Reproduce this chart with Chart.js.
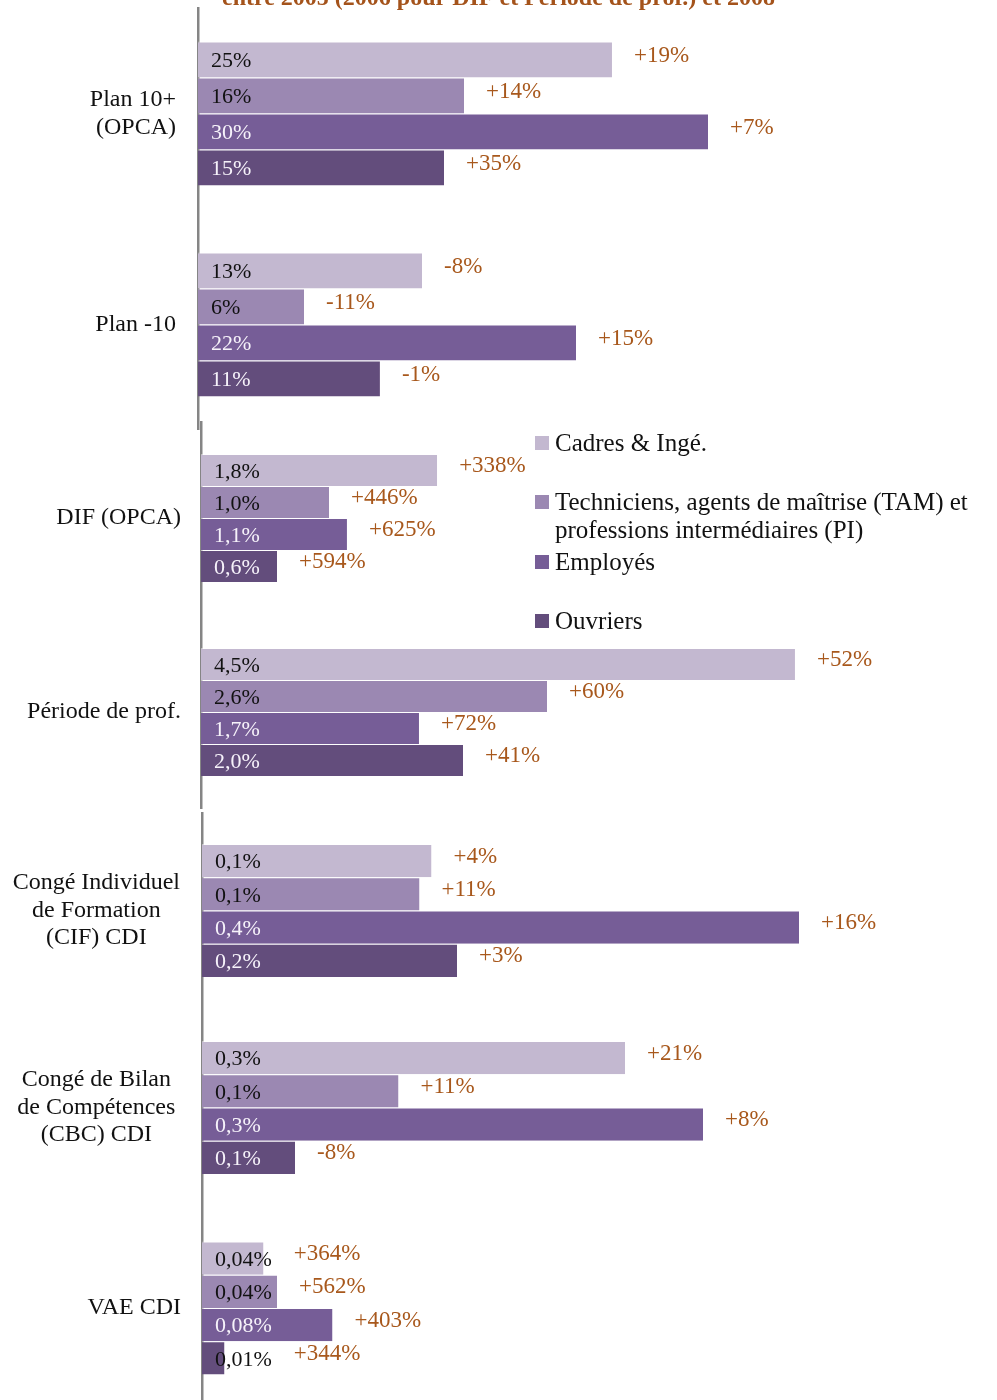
<!DOCTYPE html>
<html><head><meta charset="utf-8">
<script src="https://cdn.jsdelivr.net/npm/chart.js@4/dist/chart.umd.min.js"></script>
<style>
html,body{margin:0;padding:0;background:#fff;}
body{width:997px;height:1400px;position:relative;overflow:hidden;}
.box{position:absolute;left:0;width:997px;}
</style></head><body>
<div class="box" style="top:-52px;height:482px"><canvas id="c1"></canvas></div>
<div class="box" style="top:421px;height:388px"><canvas id="c2"></canvas></div>
<div class="box" style="top:812px;height:394px"><canvas id="c3"></canvas></div>
<div class="box" style="top:1206px;height:204px"><canvas id="c4"></canvas></div>
<script>
// ---- DATA ----
const titleText = "entre 2005 (2006 pour DIF et Période de prof.) et 2008";
const categories = [
  ["Plan 10+", "(OPCA)"],
  "Plan -10",
  "DIF (OPCA)",
  "Période de prof.",
  ["Congé Individuel", "de Formation", "(CIF) CDI"],
  ["Congé de Bilan", "de Compétences", "(CBC) CDI"],
  "VAE CDI"
];
const seriesNames = ["Cadres & Ingé.", "Techniciens, agents de maîtrise (TAM) et professions intermédiaires (PI)", "Employés", "Ouvriers"];
// bar lengths (in %)
const cadresValues   = [24.87, 13.46, 1.78, 4.477, 0.153, 0.282, 0.041];
const tamValues      = [15.98, 6.37, 0.965, 2.608, 0.145, 0.131, 0.050];
const employesValues = [30.64, 22.71, 1.10, 1.643, 0.398, 0.334, 0.087];
const ouvriersValues = [14.78, 10.93, 0.573, 1.975, 0.170, 0.062, 0.015];
// printed share labels
const cadresLabels   = ["25%", "13%", "1,8%", "4,5%", "0,1%", "0,3%", "0,04%"];
const tamLabels      = ["16%", "6%", "1,0%", "2,6%", "0,1%", "0,1%", "0,04%"];
const employesLabels = ["30%", "22%", "1,1%", "1,7%", "0,4%", "0,3%", "0,08%"];
const ouvriersLabels = ["15%", "11%", "0,6%", "2,0%", "0,2%", "0,1%", "0,01%"];
// printed evolution labels
const cadresChange   = ["+19%", "-8%", "+338%", "+52%", "+4%", "+21%", "+364%"];
const tamChange      = ["+14%", "-11%", "+446%", "+60%", "+11%", "+11%", "+562%"];
const employesChange = ["+7%", "+15%", "+625%", "+72%", "+16%", "+8%", "+403%"];
const ouvriersChange = ["+35%", "-1%", "+594%", "+41%", "+3%", "-8%", "+344%"];

// ---- STYLE ----
const FONT = "'Liberation Serif', 'Times New Roman', serif";
const colors = ["#c3b8d0", "#9b88b2", "#765d97", "#634d7c"];
const textColors = ["#111111", "#111111", "#f6f2fa", "#f6f2fa"];
const changeColor = "#a8581c";

const series = [
  {values: cadresValues, labels: cadresLabels, changes: cadresChange},
  {values: tamValues, labels: tamLabels, changes: tamChange},
  {values: employesValues, labels: employesLabels, changes: employesChange},
  {values: ouvriersValues, labels: ouvriersLabels, changes: ouvriersChange}
];

const barLabels = {
  id: 'barLabels',
  afterDatasetsDraw(chart) {
    const ctx = chart.ctx;
    ctx.save();
    ctx.textAlign = 'left';
    ctx.textBaseline = 'middle';
    chart.data.datasets.forEach((ds, di) => {
      const meta = chart.getDatasetMeta(di);
      meta.data.forEach((bar, j) => {
        const left = bar.base, right = bar.x, y = bar.y;
        ctx.font = "22px " + FONT;
        const txt = ds.valueLabels[j];
        const tw = ctx.measureText(txt).width;
        const tx = left + 13;
        ctx.fillStyle = (tx + tw <= right - 2) ? ds.textColor : '#111111';
        ctx.fillText(txt, tx, y + 2);
        ctx.font = "23px " + FONT;
        ctx.fillStyle = changeColor;
        ctx.fillText(ds.changes[j], Math.max(right, tx + tw) + 22, y - 4);
      });
    });
    ctx.restore();
  }
};

const sideLegend = {
  id: 'sideLegend',
  afterDraw(chart) {
    const ctx = chart.ctx;
    const offsetTop = 421;
    const ys = [443, 502, 562, 621];
    ctx.save();
    ctx.font = "25px " + FONT;
    ctx.textAlign = 'left';
    ctx.textBaseline = 'middle';
    chart.data.datasets.forEach((ds, i) => {
      const y = ys[i] - offsetTop;
      ctx.fillStyle = ds.backgroundColor;
      ctx.fillRect(535, y - 7, 14, 14);
      ctx.fillStyle = '#111111';
      const words = ds.label.split(' ');
      const lines = [];
      let cur = '';
      words.forEach(w => {
        const t = cur ? cur + ' ' + w : w;
        if (ctx.measureText(t).width > 440 && cur) { lines.push(cur); cur = w; } else cur = t;
      });
      lines.push(cur);
      lines.forEach((ln, k) => ctx.fillText(ln, 555, y + 1 + k * 28));
    });
    ctx.restore();
  }
};

function makeChart(id, idx, o) {
  const datasets = series.map((s, si) => ({
    label: seriesNames[si],
    data: idx.map(i => s.values[i]),
    valueLabels: idx.map(i => s.labels[i]),
    changes: idx.map(i => s.changes[i]),
    backgroundColor: colors[si],
    textColor: textColors[si],
    borderColor: 'rgba(255,255,255,0.45)',
    borderWidth: {top: 1, bottom: 0, left: 0, right: 0},
    borderSkipped: 'start',
    barPercentage: 1,
    categoryPercentage: o.catPct
  }));
  return new Chart(document.getElementById(id), {
    type: 'bar',
    data: {labels: idx.map(i => categories[i]), datasets},
    options: {
      indexAxis: 'y',
      responsive: true,
      maintainAspectRatio: false,
      animation: false,
      layout: {padding: 0},
      plugins: {
        legend: {display: false},
        tooltip: {enabled: false},
        title: o.title ? {
          display: true, text: o.title, color: '#a4531b',
          font: {family: FONT, size: 24, weight: 'bold', lineHeight: 1.0},
          padding: {top: 39, bottom: -3}
        } : {display: false}
      },
      scales: {
        x: {display: false, min: 0, max: o.max},
        y: {
          afterFit: s => { s.width = o.axisX; s.paddingTop = 0; s.paddingBottom = 0; },
          grid: {display: false, drawTicks: false},
          border: {display: true, color: '#858585', width: 2.5},
          ticks: {
            font: {family: FONT, size: 24, lineHeight: 1.15},
            color: '#111111',
            padding: o.pad,
            crossAlign: o.align
          }
        }
      }
    },
    plugins: [barLabels].concat(o.extra || [])
  });
}

makeChart('c1', [0, 1], {max: 48, axisX: 198, pad: 22, align: 'near', catPct: 0.682, title: titleText});
makeChart('c2', [2, 3], {max: 6, axisX: 201, pad: 20, align: 'near', catPct: 0.66, extra: [sideLegend]});
makeChart('c3', [4, 5], {max: 0.53, axisX: 202, pad: 22, align: 'center', catPct: 0.675});
makeChart('c4', [6], {max: 0.53, axisX: 202, pad: 21, align: 'near', catPct: 0.652});
</script>
</body></html>
